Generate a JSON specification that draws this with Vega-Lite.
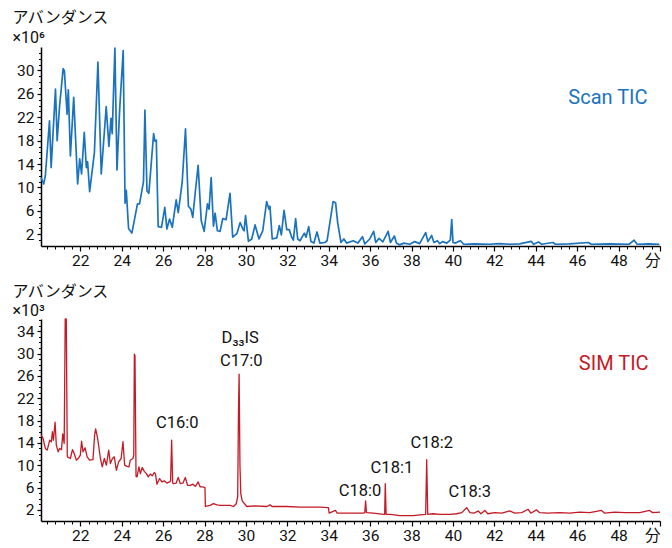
{
  "$schema": "https://vega.github.io/schema/vega-lite/v6.json",
  "padding": {"left": 12, "top": 9, "right": 5, "bottom": 5},
  "background": "white",
  "bounds": "flush",
  "spacing": 73,
  "config": {
    "view": {"stroke": null},
    "font": "Roboto, 'Noto Sans CJK JP', sans-serif",
    "axis": {
      "domainColor": "#000000",
      "domainWidth": 1.5,
      "tickColor": "#000000",
      "tickWidth": 1.2,
      "labelColor": "#111111",
      "labelFontSize": 15.5,
      "labelFont": "Roboto, 'Noto Sans CJK JP', sans-serif",
      "titleFont": "Roboto, 'Noto Sans CJK JP', sans-serif",
      "titleColor": "#111111",
      "titleFontWeight": "normal",
      "titleFontSize": 16,
      "grid": false
    }
  },
  "datasets": {
    "scan": [
      {"t":20.1,"v":11.7},{"t":20.23,"v":10.6},{"t":20.31,"v":12},{"t":20.51,"v":21.4},{"t":20.59,"v":13.4},{"t":20.8,"v":26.8},{"t":20.88,"v":18},{"t":21.0,"v":24},{"t":21.17,"v":30.3},{"t":21.23,"v":29.9},{"t":21.36,"v":22.5},{"t":21.42,"v":26.7},{"t":21.52,"v":15.4},{"t":21.68,"v":25.4},{"t":21.87,"v":10.6},{"t":21.97,"v":14.9},{"t":22.06,"v":12.3},{"t":22.19,"v":19.4},{"t":22.29,"v":13.4},{"t":22.35,"v":14.4},{"t":22.45,"v":9.3},{"t":22.68,"v":16},{"t":22.85,"v":31.4},{"t":23.01,"v":12.3},{"t":23.25,"v":23.8},{"t":23.38,"v":17},{"t":23.48,"v":21.8},{"t":23.54,"v":19.2},{"t":23.67,"v":33.8},{"t":23.77,"v":13},{"t":23.9,"v":23.3},{"t":24.07,"v":33.4},{"t":24.16,"v":7.3},{"t":24.22,"v":9.5},{"t":24.33,"v":3},{"t":24.49,"v":2.2},{"t":24.76,"v":7.2},{"t":24.86,"v":7.2},{"t":25.05,"v":11},{"t":25.12,"v":23.2},{"t":25.22,"v":9.4},{"t":25.31,"v":9},{"t":25.54,"v":19.2},{"t":25.6,"v":17.9},{"t":25.67,"v":18.1},{"t":25.76,"v":3.3},{"t":25.92,"v":3.2},{"t":26.08,"v":6.6},{"t":26.18,"v":2.9},{"t":26.31,"v":4.6},{"t":26.44,"v":3.2},{"t":26.63,"v":7.9},{"t":26.73,"v":5.7},{"t":26.92,"v":10.9},{"t":27.08,"v":20},{"t":27.22,"v":6.8},{"t":27.34,"v":6.3},{"t":27.43,"v":4.9},{"t":27.55,"v":9.1},{"t":27.69,"v":13.8},{"t":27.84,"v":4.3},{"t":27.98,"v":2.5},{"t":28.14,"v":7.2},{"t":28.22,"v":6.3},{"t":28.32,"v":11.7},{"t":28.43,"v":3.4},{"t":28.51,"v":5.6},{"t":28.62,"v":2.6},{"t":28.75,"v":2.5},{"t":28.88,"v":4.7},{"t":29.04,"v":4.5},{"t":29.23,"v":9},{"t":29.36,"v":1.5},{"t":29.56,"v":2.1},{"t":29.72,"v":4.0},{"t":29.85,"v":2.9},{"t":29.91,"v":2.6},{"t":29.98,"v":5.2},{"t":30.12,"v":0.8},{"t":30.28,"v":1.2},{"t":30.44,"v":3.6},{"t":30.63,"v":1.2},{"t":30.81,"v":2.6},{"t":31.0,"v":7.6},{"t":31.11,"v":6.3},{"t":31.16,"v":6.8},{"t":31.27,"v":1.2},{"t":31.49,"v":1.4},{"t":31.61,"v":3.5},{"t":31.71,"v":1.9},{"t":31.84,"v":6.1},{"t":31.97,"v":2.8},{"t":32.09,"v":2.8},{"t":32.21,"v":1.5},{"t":32.29,"v":1.0},{"t":32.4,"v":4.7},{"t":32.5,"v":1.2},{"t":32.61,"v":0.9},{"t":32.82,"v":2.2},{"t":32.9,"v":1.5},{"t":33.03,"v":3.3},{"t":33.14,"v":0.75},{"t":33.28,"v":0.5},{"t":33.43,"v":2.4},{"t":33.57,"v":0.5},{"t":33.81,"v":0.6},{"t":33.92,"v":0.9},{"t":34.21,"v":7.6},{"t":34.33,"v":7.4},{"t":34.43,"v":4.0},{"t":34.59,"v":0.6},{"t":34.73,"v":1.2},{"t":34.86,"v":0.5},{"t":35.18,"v":0.9},{"t":35.41,"v":0.5},{"t":35.63,"v":1.6},{"t":35.74,"v":0.35},{"t":35.98,"v":1.2},{"t":36.17,"v":2.5},{"t":36.27,"v":0.6},{"t":36.43,"v":1.3},{"t":36.61,"v":0.7},{"t":36.87,"v":2.5},{"t":36.98,"v":0.6},{"t":37.17,"v":1.7},{"t":37.27,"v":0.5},{"t":37.4,"v":0.2},{"t":37.64,"v":0.5},{"t":37.91,"v":0.3},{"t":38.15,"v":0.75},{"t":38.39,"v":0.4},{"t":38.68,"v":2.3},{"t":38.79,"v":0.75},{"t":38.97,"v":1.8},{"t":39.08,"v":0.6},{"t":39.25,"v":0.9},{"t":39.36,"v":0.4},{"t":39.49,"v":0.75},{"t":39.7,"v":0.5},{"t":39.87,"v":1.0},{"t":39.94,"v":4.5},{"t":40.0,"v":0.6},{"t":40.13,"v":0.5},{"t":40.26,"v":0.75},{"t":40.36,"v":0.9},{"t":40.52,"v":0.3},{"t":41.05,"v":0.35},{"t":41.77,"v":0.3},{"t":42.25,"v":0.4},{"t":42.73,"v":0.3},{"t":43.22,"v":0.35},{"t":43.78,"v":0.8},{"t":43.89,"v":0.3},{"t":44.13,"v":0.7},{"t":44.28,"v":0.3},{"t":44.82,"v":0.6},{"t":44.95,"v":0.3},{"t":45.63,"v":0.35},{"t":46.54,"v":0.6},{"t":46.68,"v":0.3},{"t":47.55,"v":0.35},{"t":48.51,"v":0.3},{"t":48.75,"v":1.0},{"t":48.9,"v":0.3},{"t":49.47,"v":0.35},{"t":49.97,"v":0.3}
    ],
    "sim": [
      {"t":20.11,"v":15.4},{"t":20.2,"v":14.8},{"t":20.31,"v":13.0},{"t":20.4,"v":12.7},{"t":20.52,"v":14.5},{"t":20.6,"v":14.2},{"t":20.65,"v":16.0},{"t":20.7,"v":14.5},{"t":20.78,"v":17.7},{"t":20.84,"v":13.6},{"t":20.93,"v":12.4},{"t":21.0,"v":13.0},{"t":21.09,"v":12.8},{"t":21.15,"v":15.6},{"t":21.22,"v":13.9},{"t":21.27,"v":36.2},{"t":21.32,"v":36.2},{"t":21.37,"v":11.5},{"t":21.52,"v":11.2},{"t":21.62,"v":12.8},{"t":21.71,"v":12.0},{"t":21.81,"v":10.9},{"t":21.92,"v":11.3},{"t":22.0,"v":11.8},{"t":22.06,"v":14.3},{"t":22.13,"v":12.4},{"t":22.23,"v":13.1},{"t":22.33,"v":11.5},{"t":22.45,"v":10.9},{"t":22.61,"v":11.0},{"t":22.69,"v":15.4},{"t":22.74,"v":16.5},{"t":22.84,"v":14.7},{"t":22.97,"v":11.2},{"t":23.06,"v":9.7},{"t":23.16,"v":11.2},{"t":23.26,"v":10.0},{"t":23.37,"v":12.7},{"t":23.45,"v":10.3},{"t":23.55,"v":11.2},{"t":23.64,"v":11.5},{"t":23.74,"v":9.1},{"t":23.85,"v":10.6},{"t":23.97,"v":11.2},{"t":24.06,"v":14.2},{"t":24.14,"v":10.0},{"t":24.25,"v":9.8},{"t":24.35,"v":9.7},{"t":24.41,"v":10.9},{"t":24.54,"v":11.2},{"t":24.58,"v":11.8},{"t":24.61,"v":29.9},{"t":24.64,"v":29.6},{"t":24.69,"v":8.0},{"t":24.74,"v":7.9},{"t":24.83,"v":9.7},{"t":24.9,"v":8.5},{"t":24.99,"v":9.6},{"t":25.09,"v":8.9},{"t":25.19,"v":8.5},{"t":25.28,"v":7.9},{"t":25.38,"v":8.4},{"t":25.48,"v":8.1},{"t":25.57,"v":8.7},{"t":25.63,"v":8.4},{"t":25.7,"v":6.6},{"t":25.83,"v":7.6},{"t":25.94,"v":7.0},{"t":26.05,"v":7.2},{"t":26.18,"v":6.8},{"t":26.31,"v":7.0},{"t":26.36,"v":7.2},{"t":26.41,"v":14.5},{"t":26.46,"v":6.8},{"t":26.5,"v":6.7},{"t":26.63,"v":6.8},{"t":26.73,"v":7.8},{"t":26.83,"v":6.7},{"t":26.96,"v":6.8},{"t":27.07,"v":7.8},{"t":27.18,"v":6.4},{"t":27.31,"v":6.4},{"t":27.44,"v":6.6},{"t":27.56,"v":6.2},{"t":27.69,"v":7.0},{"t":27.79,"v":6.1},{"t":27.92,"v":6.1},{"t":28.02,"v":6.0},{"t":28.04,"v":2.6},{"t":28.27,"v":2.8},{"t":28.43,"v":3.1},{"t":28.6,"v":2.9},{"t":28.76,"v":2.8},{"t":29.0,"v":2.8},{"t":29.24,"v":2.8},{"t":29.4,"v":2.6},{"t":29.53,"v":3.1},{"t":29.6,"v":4.3},{"t":29.64,"v":20.0},{"t":29.67,"v":26.3},{"t":29.71,"v":10.0},{"t":29.75,"v":4.9},{"t":29.82,"v":3.6},{"t":30.04,"v":2.6},{"t":30.44,"v":2.7},{"t":31.01,"v":2.6},{"t":31.17,"v":2.9},{"t":31.26,"v":2.6},{"t":31.97,"v":2.6},{"t":32.61,"v":2.5},{"t":33.1,"v":2.5},{"t":33.58,"v":2.5},{"t":33.98,"v":2.4},{"t":34.02,"v":1.4},{"t":34.32,"v":1.9},{"t":34.41,"v":1.4},{"t":35.03,"v":1.4},{"t":35.67,"v":1.4},{"t":35.74,"v":1.5},{"t":35.78,"v":3.6},{"t":35.82,"v":1.5},{"t":36.15,"v":1.4},{"t":36.67,"v":1.2},{"t":36.7,"v":1.2},{"t":36.73,"v":6.7},{"t":36.77,"v":1.2},{"t":36.96,"v":1.2},{"t":37.44,"v":0.95},{"t":38.08,"v":0.95},{"t":38.4,"v":1.1},{"t":38.68,"v":1.2},{"t":38.73,"v":11.0},{"t":38.78,"v":1.2},{"t":39.03,"v":1.3},{"t":39.37,"v":1.2},{"t":39.85,"v":1.2},{"t":40.17,"v":1.3},{"t":40.43,"v":1.5},{"t":40.66,"v":2.4},{"t":40.82,"v":1.5},{"t":41.01,"v":1.4},{"t":41.22,"v":1.8},{"t":41.35,"v":1.3},{"t":41.54,"v":1.9},{"t":41.68,"v":1.3},{"t":42.02,"v":1.5},{"t":42.36,"v":1.4},{"t":42.74,"v":1.8},{"t":42.98,"v":1.4},{"t":43.32,"v":1.5},{"t":43.63,"v":2.1},{"t":43.76,"v":1.4},{"t":44.03,"v":2.0},{"t":44.19,"v":1.5},{"t":44.58,"v":1.4},{"t":45.16,"v":1.5},{"t":45.64,"v":1.4},{"t":46.12,"v":1.6},{"t":46.61,"v":1.5},{"t":47.17,"v":1.9},{"t":47.33,"v":1.4},{"t":47.82,"v":1.6},{"t":48.3,"v":1.5},{"t":49.02,"v":1.5},{"t":49.5,"v":1.9},{"t":49.64,"v":1.5},{"t":50.0,"v":1.6}
    ],
    "scanLabel": [{"t":49.4,"v":25.3,"label":"Scan TIC"}],
    "simLabel": [{"t":49.45,"v":28.1,"label":"SIM TIC"}],
    "peaks": [
      {"t":29.72,"v":32.8,"label":"D₃₃IS"},
      {"t":29.77,"v":28.7,"label":"C17:0"},
      {"t":26.68,"v":17.6,"label":"C16:0"},
      {"t":35.51,"v":5.4,"label":"C18:0"},
      {"t":37.05,"v":9.5,"label":"C18:1"},
      {"t":38.98,"v":14.0,"label":"C18:2"},
      {"t":40.81,"v":5.2,"label":"C18:3"}
    ]
  },
  "vconcat": [
    {
      "width": 619,
      "height": 199,
      "resolve": {"axis": {"x": "independent", "y": "independent"}},
      "layer": [
        {
          "data": {"name": "scan"},
          "mark": {"type": "line", "color": "#1b73bf", "strokeWidth": 1.7, "strokeJoin": "round"},
          "encoding": {
            "x": {"field": "t", "type": "quantitative", "scale": {"domain": [20.1, 50], "nice": false, "zero": false},
              "axis": {"orient": "bottom", "title": null, "values": [22,24,26,28,30,32,34,36,38,40,42,44,46,48,50], "labelExpr": "datum.value == 50 ? '分' : datum.label", "labelFlush": true, "tickSize": 5, "labelPadding": 2}},
            "y": {"field": "v", "type": "quantitative", "scale": {"domain": [0, 34], "nice": false},
              "axis": {"orient": "left", "values": [2,6,10,14,18,22,26,30], "tickSize": 4, "labelPadding": 3,
                "title": ["アバンダンス", " ×10⁶"], "titleAngle": 0, "titleAlign": "left", "titleBaseline": "alphabetic", "titleX": -29, "titleY": -25, "titleLineHeight": 20}}
          }
        },
        {
          "data": {"name": "scan"},
          "mark": {"type": "line", "opacity": 0},
          "encoding": {
            "x": {"field": "t", "type": "quantitative", "scale": {"domain": [20.1, 50], "nice": false, "zero": false},
              "axis": {"orient": "bottom", "title": null, "labels": false, "domain": false, "tickSize": 3, "tickWidth": 1, "values": [20.4,20.8,21.2,21.6,22.4,22.8,23.2,23.6,24.4,24.8,25.2,25.6,26.4,26.8,27.2,27.6,28.4,28.8,29.2,29.6,30.4,30.8,31.2,31.6,32.4,32.8,33.2,33.6,34.4,34.8,35.2,35.6,36.4,36.8,37.2,37.6,38.4,38.8,39.2,39.6,40.4,40.8,41.2,41.6,42.4,42.8,43.2,43.6,44.4,44.8,45.2,45.6,46.4,46.8,47.2,47.6,48.4,48.8,49.2,49.6]}},
            "y": {"field": "v", "type": "quantitative", "scale": {"domain": [0, 34], "nice": false},
              "axis": {"orient": "left", "title": null, "labels": false, "domain": false, "tickSize": 2.5, "tickWidth": 1, "values": [1,3,4,5,7,8,9,11,12,13,15,16,17,19,20,21,23,24,25,27,28,29,31,32,33]}}
          }
        },
        {
          "data": {"name": "scanLabel"},
          "mark": {"type": "text", "color": "#1b73bf", "fontSize": 20, "align": "right", "baseline": "middle"},
          "encoding": {
            "x": {"field": "t", "type": "quantitative", "scale": {"domain": [20.1, 50], "nice": false, "zero": false}, "axis": null},
            "y": {"field": "v", "type": "quantitative", "scale": {"domain": [0, 34], "nice": false}, "axis": null},
            "text": {"field": "label"}
          }
        }
      ]
    },
    {
      "width": 619,
      "height": 202,
      "resolve": {"axis": {"x": "independent", "y": "independent"}},
      "layer": [
        {
          "data": {"name": "sim"},
          "mark": {"type": "line", "color": "#c41a26", "strokeWidth": 1.3, "strokeJoin": "round"},
          "encoding": {
            "x": {"field": "t", "type": "quantitative", "scale": {"domain": [20.1, 50], "nice": false, "zero": false},
              "axis": {"orient": "bottom", "title": null, "values": [22,24,26,28,30,32,34,36,38,40,42,44,46,48,50], "labelExpr": "datum.value == 50 ? '分' : datum.label", "labelFlush": true, "tickSize": 5, "labelPadding": 2}},
            "y": {"field": "v", "type": "quantitative", "scale": {"domain": [0, 36.2], "nice": false},
              "axis": {"orient": "left", "values": [2,6,10,14,18,22,26,30,34], "tickSize": 4, "labelPadding": 3,
                "title": ["アバンダンス", " ×10³"], "titleAngle": 0, "titleAlign": "left", "titleBaseline": "alphabetic", "titleX": -29, "titleY": -23, "titleLineHeight": 19.5}}
          }
        },
        {
          "data": {"name": "sim"},
          "mark": {"type": "line", "opacity": 0},
          "encoding": {
            "x": {"field": "t", "type": "quantitative", "scale": {"domain": [20.1, 50], "nice": false, "zero": false},
              "axis": {"orient": "bottom", "title": null, "labels": false, "domain": false, "tickSize": 3, "tickWidth": 1, "values": [20.4,20.8,21.2,21.6,22.4,22.8,23.2,23.6,24.4,24.8,25.2,25.6,26.4,26.8,27.2,27.6,28.4,28.8,29.2,29.6,30.4,30.8,31.2,31.6,32.4,32.8,33.2,33.6,34.4,34.8,35.2,35.6,36.4,36.8,37.2,37.6,38.4,38.8,39.2,39.6,40.4,40.8,41.2,41.6,42.4,42.8,43.2,43.6,44.4,44.8,45.2,45.6,46.4,46.8,47.2,47.6,48.4,48.8,49.2,49.6]}},
            "y": {"field": "v", "type": "quantitative", "scale": {"domain": [0, 36.2], "nice": false},
              "axis": {"orient": "left", "title": null, "labels": false, "domain": false, "tickSize": 2.5, "tickWidth": 1, "values": [1,3,4,5,7,8,9,11,12,13,15,16,17,19,20,21,23,24,25,27,28,29,31,32,33,35,36]}}
          }
        },
        {
          "data": {"name": "peaks"},
          "mark": {"type": "text", "color": "#111111", "fontSize": 16.5, "align": "center", "baseline": "middle"},
          "encoding": {
            "x": {"field": "t", "type": "quantitative", "scale": {"domain": [20.1, 50], "nice": false, "zero": false}, "axis": null},
            "y": {"field": "v", "type": "quantitative", "scale": {"domain": [0, 36.2], "nice": false}, "axis": null},
            "text": {"field": "label"}
          }
        },
        {
          "data": {"name": "simLabel"},
          "mark": {"type": "text", "color": "#c41a26", "fontSize": 20, "align": "right", "baseline": "middle"},
          "encoding": {
            "x": {"field": "t", "type": "quantitative", "scale": {"domain": [20.1, 50], "nice": false, "zero": false}, "axis": null},
            "y": {"field": "v", "type": "quantitative", "scale": {"domain": [0, 36.2], "nice": false}, "axis": null},
            "text": {"field": "label"}
          }
        }
      ]
    }
  ]
}
